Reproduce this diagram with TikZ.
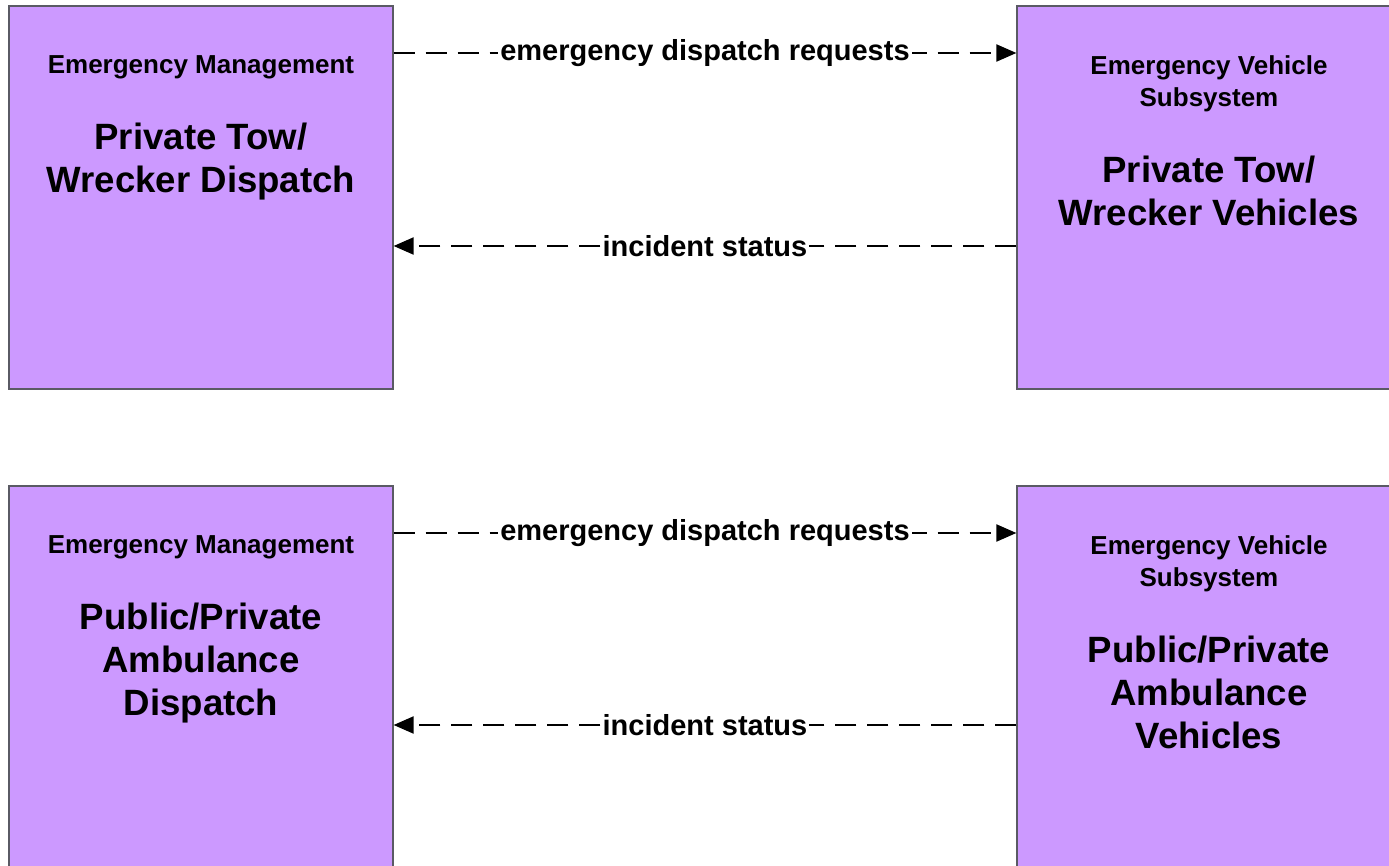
\documentclass[tikz,border=0pt]{standalone}
\usepackage{fontspec}
\setmainfont{Liberation Sans}
\usepackage{tikz}
\usetikzlibrary{positioning, arrows.meta}
\definecolor{boxfill}{RGB}{204,153,255}
\definecolor{boxline}{RGB}{90,90,100}
\newcommand{\tierfont}{\fontsize{13}{16}\selectfont\bfseries}
\newcommand{\elemfont}{\fontsize{18.3}{21.5}\selectfont\bfseries}
\newcommand{\flowfont}{\fontsize{14.5}{17}\selectfont\bfseries}
\tikzstyle{block}     = [rectangle, draw=boxline, fill=boxfill, line width=0.6pt, minimum width=192pt, minimum height=191.5pt, inner sep=0pt]
\tikzstyle{tier}      = [font=\tierfont, align=center, anchor=north, inner sep=0pt]
\tikzstyle{elem}      = [font=\elemfont, align=center, inner sep=0pt]
\tikzstyle{flow}      = [line width=1pt, dash pattern=on 10.5pt off 5.5pt, -{Triangle[length=10pt,width=8.5pt]}]
\tikzstyle{flowlabel} = [font=\flowfont, fill=white, inner sep=1pt]
\begin{document}
\begin{tikzpicture}[x=0.5pt, y=-0.5pt, node distance=21.5pt]
    \useasboundingbox (0,0) rectangle (1389,866);

    % boxes
    \node (towdisp)  [block] at (201,197.5)  {};
    \node (towveh)   [block] at (1209,197.5) {};
    \node (ambdisp)  [block] at (201,677.5)  {};
    \node (ambveh)   [block] at (1209,677.5) {};

    % box texts
    \node (towdispT) [tier, below=25pt of towdisp.north, anchor=north] {Emergency Management};
    \node (towdispE) [elem, below=of towdispT] {Private Tow/\\Wrecker Dispatch};
    \node (towvehT)  [tier, below=25pt of towveh.north, anchor=north] {Emergency Vehicle\\Subsystem};
    \node (towvehE)  [elem, below=of towvehT] {Private Tow/\\Wrecker Vehicles};
    \node (ambdispT) [tier, below=25pt of ambdisp.north, anchor=north] {Emergency Management};
    \node (ambdispE) [elem, below=of ambdispT] {Public/Private\\Ambulance\\Dispatch};
    \node (ambvehT)  [tier, below=25pt of ambveh.north, anchor=north] {Emergency Vehicle\\Subsystem};
    \node (ambvehE)  [elem, below=of ambvehT] {Public/Private\\Ambulance\\Vehicles};

    % arrows
    \draw [flow] (towdisp.east |- 0,53)  -- node [flowlabel] {emergency dispatch requests} (towveh.west |- 0,53);
    \draw [flow] (towveh.west |- 0,246)  -- node [flowlabel] {incident status} (towdisp.east |- 0,246);
    \draw [flow] (ambdisp.east |- 0,533) -- node [flowlabel] {emergency dispatch requests} (ambveh.west |- 0,533);
    \draw [flow] (ambveh.west |- 0,725)  -- node [flowlabel] {incident status} (ambdisp.east |- 0,725);
\end{tikzpicture}
\end{document}
